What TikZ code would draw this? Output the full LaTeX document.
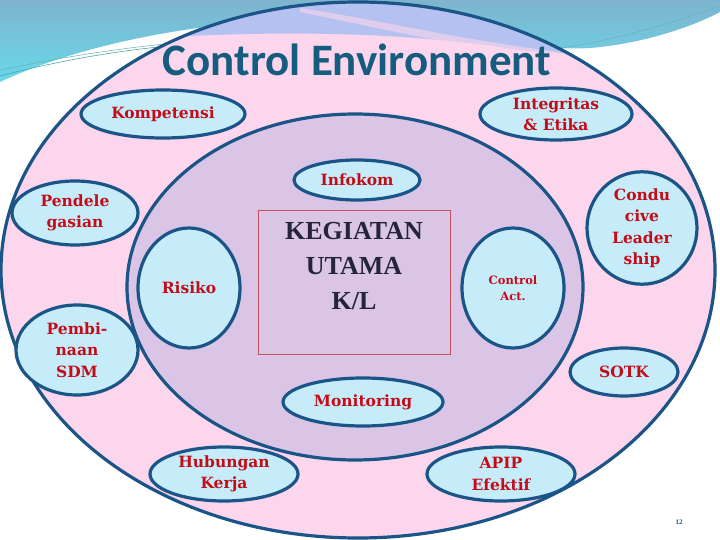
\documentclass[tikz,border=0pt]{standalone}
\usepackage{fontspec}
\setmainfont{Liberation Serif}
\newfontfamily\titlefont{Carlito}
\newfontfamily\bubblefont{DejaVu Serif}
\usetikzlibrary{shapes.geometric,positioning}

\definecolor{ringblue}{RGB}{27,84,134}
\definecolor{pinkfill}{RGB}{252,214,236}
\definecolor{lavfill}{RGB}{218,197,230}
\definecolor{bubblefill}{RGB}{198,236,250}
\definecolor{labelred}{RGB}{196,12,24}
\definecolor{titleblue}{RGB}{22,92,126}
\definecolor{rectred}{RGB}{196,80,90}
\definecolor{coretext}{RGB}{36,36,60}
\definecolor{skytop}{RGB}{126,180,206}
\definecolor{skybottom}{RGB}{104,216,234}

\tikzset{
  bubble/.style 2 args={ellipse, draw=ringblue, line width=3.2pt, fill=bubblefill,
    inner sep=0pt, align=center, text=labelred,
    minimum width=#1, minimum height=#2,
    font=\bubblefont\bfseries\fontsize{15.5}{21.5}\selectfont},
}

\begin{document}
\begin{tikzpicture}[x=1pt,y=-1pt]
  \useasboundingbox (0,0) rectangle (720,540);
  \fill[white] (0,0) rectangle (720,540);

  % Sky band at the top
  \shade[top color=skytop, bottom color=skybottom]
    (0,0) -- (720,0) -- (720,12) .. controls (690,28) and (640,44) .. (590,48)
    .. controls (520,52) and (470,30) .. (400,22)
    .. controls (260,10) and (100,35) .. (0,82) -- cycle;
  \draw[teal!70, line width=0.6pt] (0,76) .. controls (100,50) and (200,38) .. (330,40);
  \draw[teal!60, line width=0.5pt] (0,70) .. controls (120,45) and (220,36) .. (320,37);
  \draw[teal!60, line width=0.5pt] (560,48) .. controls (620,40) and (680,20) .. (720,6);

  % Outer ring
  \fill[pinkfill] (358,270) ellipse[x radius=357, y radius=268];
  \begin{scope}
    \clip (358,270) ellipse[x radius=357, y radius=268];
    \fill[blue!45!cyan, opacity=0.28]
      (0,0) -- (720,0) -- (720,20) .. controls (640,50) and (580,58) .. (520,50)
      .. controls (440,38) and (300,20) .. (0,50) -- cycle;
    \fill[pinkfill, opacity=0.6]
      (300,8) .. controls (380,20) and (460,40) .. (560,52)
      -- (560,58) .. controls (460,48) and (380,28) .. (300,12) -- cycle;
  \end{scope}
  \draw[ringblue, line width=3.2pt] (358,270) ellipse[x radius=357, y radius=268];

  % Inner ring
  \draw[ringblue, line width=3.2pt, fill=lavfill] (355,287) ellipse[x radius=228, y radius=173];

  % Title
  \node[text=titleblue, font=\titlefont\bfseries\fontsize{45}{48}\selectfont] (title) at (357,60) {Control Environment};

  % Core activity
  \node[draw=rectred, line width=0.8pt, minimum width=192, minimum height=144] (core) at (354,282) {};
  \node[text=coretext, align=center, font=\bfseries\fontsize{26}{35}\selectfont] (coretxt) at (354,266) {KEGIATAN\\UTAMA\\K/L};

  % Elements in the outer ring
  \node[bubble={164}{48}] (komp) at (163,114) {Kompetensi};
  \node[bubble={152}{52}] (integ) at (556,114) {Integritas\\\& Etika};
  \node[bubble={126}{64}] (pend) at (75,213) {Pendele\\gasian};
  \node[bubble={122}{90}] (pemb) at (77,350) {Pembi-\\naan\\SDM};
  \node[bubble={110}{110}] (lead) at (642,228) {Condu\\cive\\Leader\\ship};
  \node[bubble={108}{48}] (sotk) at (624,372) {SOTK};
  \node[bubble={148}{54}] (hub) at (224,474) {Hubungan\\Kerja};
  \node[bubble={148}{54}] (apip) at (501,474) {APIP\\Efektif};

  % Elements in the inner ring
  \node[bubble={126}{40}] (info) at (357,180) {Infokom};
  \node[bubble={102}{120}] (risk) at (189,288) {Risiko};
  \node[bubble={102}{120}, font=\bubblefont\bfseries\fontsize{11.5}{16}\selectfont] (ctrl) at (513,288) {Control\\Act.};
  \node[bubble={160}{48}] (moni) at (363,402) {Monitoring};

  % Page number
  \node[text=titleblue, font=\bfseries\fontsize{7}{8}\selectfont] (page) at (679,522) {12};
\end{tikzpicture}
\end{document}
